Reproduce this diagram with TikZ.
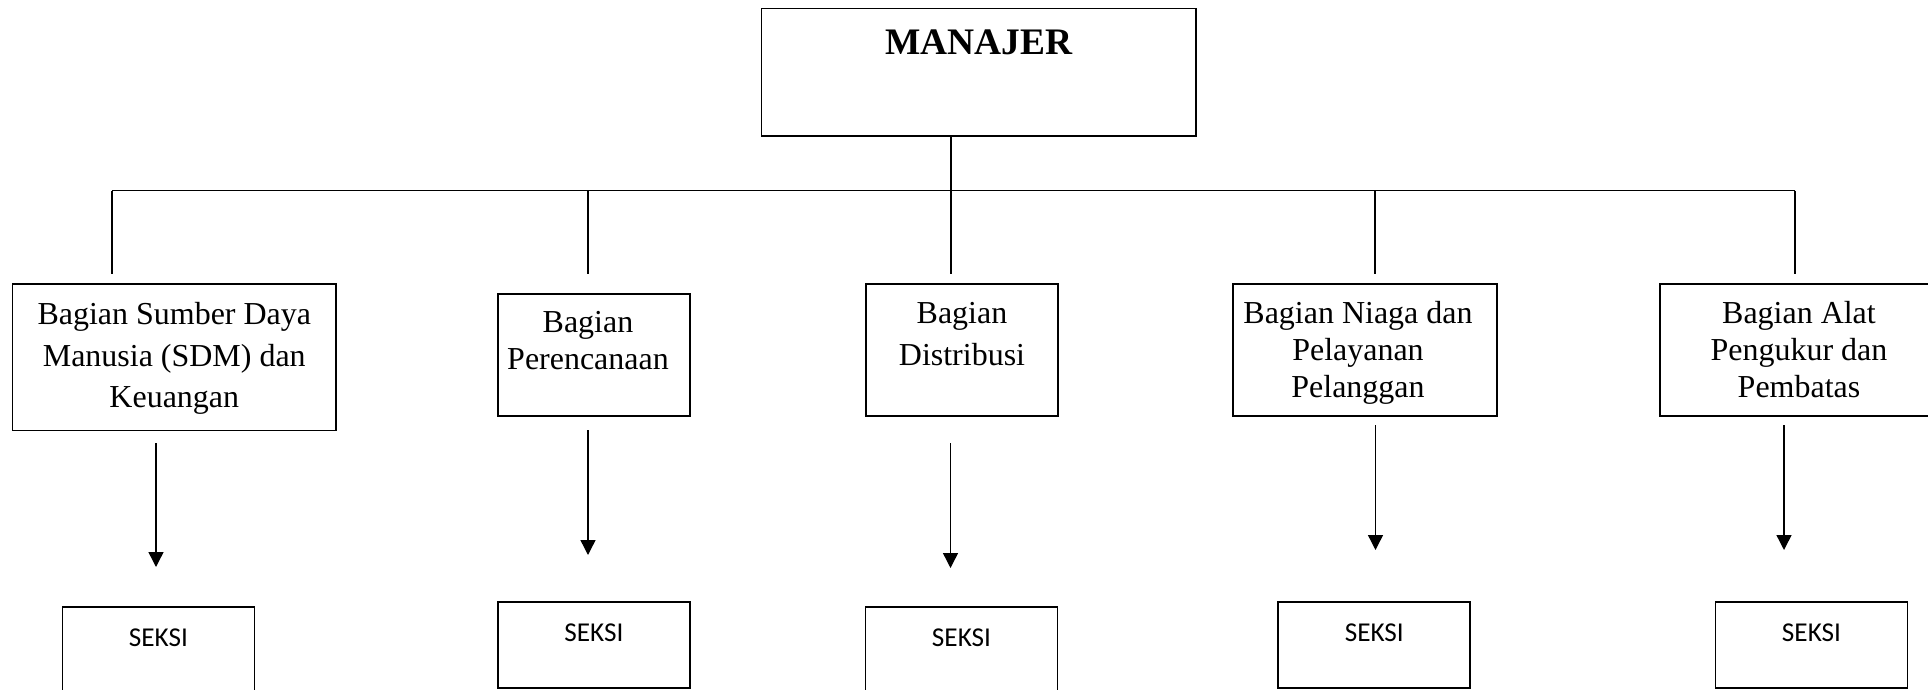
\documentclass[tikz,border=0pt]{standalone}
\usepackage{fontspec}
\setmainfont{Liberation Serif}
\newfontfamily\seksifont{Carlito}
\usetikzlibrary{arrows.meta,positioning}

\begin{document}
\begin{tikzpicture}[x=0.02cm,y=-0.02cm,
    kotak/.style={draw,line width=1pt,inner sep=0pt},
    garis/.style={line width=0.8pt},
    panah/.style={line width=0.8pt,-{Triangle[length=0.3cm,width=0.3cm]}},
    isi/.style={anchor=north,align=center,inner sep=0pt,font=\fontsize{18.2}{21}\selectfont},
    seksi/.style={kotak,minimum width=3.84cm,minimum height=1.72cm}]
    \useasboundingbox (0,0) rectangle (1928,690);

    \node[kotak,minimum width=8.69cm,minimum height=2.55cm] (manajer) at (978.7,72.2) {};
    \node[isi,font=\fontsize{21.3}{25}\selectfont\bfseries,below=0.43cm of manajer.north] (tmanajer) {MANAJER};

    \node[kotak,minimum width=6.47cm,minimum height=2.93cm] (sdm) at (174.3,357.3) {};
    \node[isi,font=\fontsize{18.2}{23.6}\selectfont,below=0.38cm of sdm.north] (tsdm) {Bagian Sumber Daya\\Manusia (SDM) dan\\Keuangan};

    \node[kotak,minimum width=3.84cm,minimum height=2.44cm] (rencana) at (594,355) {};
    \node[isi,below=0.36cm of rencana.north,xshift=-0.12cm] (trencana) {Bagian\\Perencanaan};

    \node[kotak,minimum width=3.84cm,minimum height=2.64cm] (distribusi) at (962,350) {};
    \node[isi,font=\fontsize{18.2}{23.6}\selectfont,below=0.38cm of distribusi.north] (tdistribusi) {Bagian\\Distribusi};

    \node[kotak,minimum width=5.28cm,minimum height=2.64cm] (niaga) at (1365,350) {};
    \node[isi,below=0.36cm of niaga.north,xshift=-0.14cm] (tniaga) {Bagian Niaga dan\\Pelayanan\\Pelanggan};

    \node[kotak,minimum width=5.56cm,minimum height=2.64cm] (alat) at (1799,350) {};
    \node[isi,below=0.36cm of alat.north] (talat) {Bagian Alat\\Pengukur dan\\Pembatas};

    \foreach \n/\x/\y in {A/158.5/650,B/594/645,C/961.5/650,D/1374.3/645,E/1811.5/645}{
        \node[seksi] (seksi\n) at (\x,\y) {};
        \node[isi,font=\seksifont\fontsize{15.5}{18}\selectfont,below=0.44cm of seksi\n.north] (tseksi\n) {SEKSI};
    }

    \coordinate (bus) at (951,190.7);
    \coordinate (dropA) at (112,274);
    \coordinate (dropB) at (588,274);
    \coordinate (dropC) at (951,274);
    \coordinate (dropD) at (1375,274);
    \coordinate (dropE) at (1795,274);

    \draw[garis] (manajer.south -| dropC) -- (dropC);
    \draw[garis] (dropA |- bus) -- (dropE |- bus);
    \foreach \d in {dropA,dropB,dropD,dropE}
        \draw[garis] (\d |- bus) -- (\d);

    \foreach \n/\x/\ya/\yb in {A/156/443/567,B/588/430/555,C/950.5/443/568,D/1375.5/425/550,E/1784/425/550}{
        \coordinate (pangkal\n) at (\x,\ya);
        \coordinate (ujung\n) at (\x,\yb);
        \draw[panah] (pangkal\n) -- (ujung\n);
    }
\end{tikzpicture}
\end{document}
